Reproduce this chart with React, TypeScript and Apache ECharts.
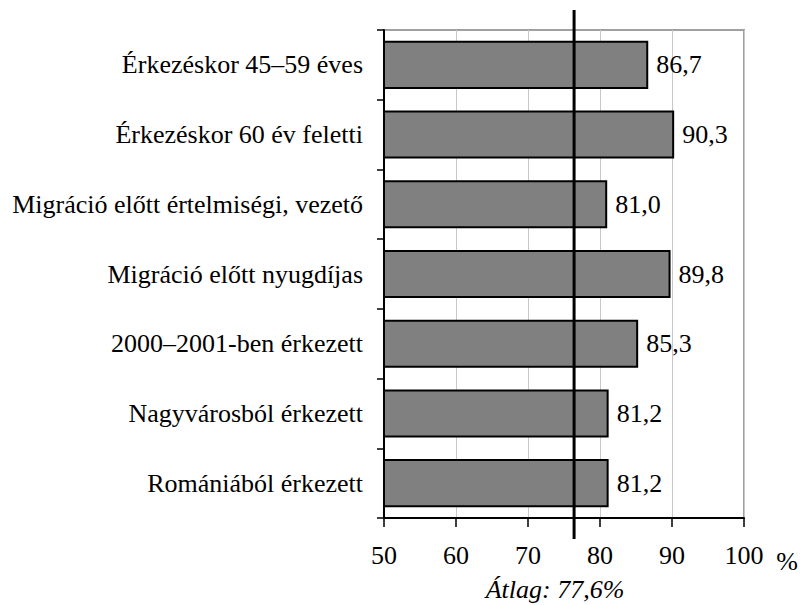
import React, { useEffect, useRef } from "react";
import * as echarts from "echarts";

const categories = [
  "Érkezéskor 45–59 éves",
  "Érkezéskor 60 év feletti",
  "Migráció előtt értelmiségi, vezető",
  "Migráció előtt nyugdíjas",
  "2000–2001-ben érkezett",
  "Nagyvárosból érkezett",
  "Romániából érkezett",
];
const values = [86.7, 90.3, 81.0, 89.8, 85.3, 81.2, 81.2];
const averageLineValue = 76.4;
const averageLabel = "Átlag: 77,6%";
const unitLabel = "%";

const FONT = "Liberation Serif";
const FS = 26;

export default function App() {
  const ref = useRef<HTMLDivElement>(null);
  useEffect(() => {
    if (!ref.current) return;
    const chart = echarts.init(ref.current, null, { renderer: "svg" });
    chart.setOption({
      animation: false,
      textStyle: { fontFamily: FONT, fontSize: FS, color: "#000" },
      grid: {
        left: 384,
        right: 57,
        top: 30,
        bottom: 87,
        show: true,
        borderColor: "#a0a0a0",
        borderWidth: 2,
      },
      xAxis: {
        type: "value",
        min: 50,
        max: 100,
        interval: 10,
        axisLine: { show: true, lineStyle: { color: "#000", width: 2 } },
        axisTick: { show: true, length: 9, lineStyle: { color: "#000", width: 1.5 } },
        splitLine: { show: true, lineStyle: { color: "#c8c8c8", width: 1 } },
        axisLabel: { margin: 24, color: "#000", fontFamily: FONT, fontSize: FS },
      },
      yAxis: {
        type: "category",
        data: categories,
        inverse: true,
        axisLine: { show: true, lineStyle: { color: "#000", width: 2 } },
        axisTick: { show: true, length: 7, lineStyle: { color: "#000", width: 1.5 } },
        axisLabel: { margin: 21, color: "#000", fontFamily: FONT, fontSize: FS },
      },
      series: [
        {
          type: "bar",
          data: values,
          barCategoryGap: "31%",
          itemStyle: { color: "#808080", borderColor: "#000", borderWidth: 2 },
          label: {
            show: true,
            position: "right",
            distance: 8,
            color: "#000",
            fontFamily: FONT,
            fontSize: FS,
            formatter: (p: any) => Number(p.value).toFixed(1).replace(".", ","),
          },
        },
      ],
    });
    const x = chart.convertToPixel({ xAxisIndex: 0 }, averageLineValue) as number;
    chart.setOption({
      graphic: [
        {
          type: "line",
          shape: { x1: x, y1: 10, x2: x, y2: 539 },
          style: { stroke: "#000", lineWidth: 3 },
          z: 100,
        },
        {
          type: "text",
          x: 787,
          y: 561,
          style: { text: unitLabel, fill: "#000", fontFamily: FONT, fontSize: FS, align: "center", verticalAlign: "middle" },
        },
        {
          type: "text",
          x: 555,
          y: 589,
          style: {
            text: averageLabel,
            fill: "#000",
            fontFamily: FONT,
            fontSize: FS,
            fontStyle: "italic",
            align: "center",
            verticalAlign: "middle",
          },
        },
      ],
    });
    return () => chart.dispose();
  }, []);
  return <div ref={ref} style={{ position: "absolute", left: 0, top: 0, width: 801, height: 605 }} />;
}
